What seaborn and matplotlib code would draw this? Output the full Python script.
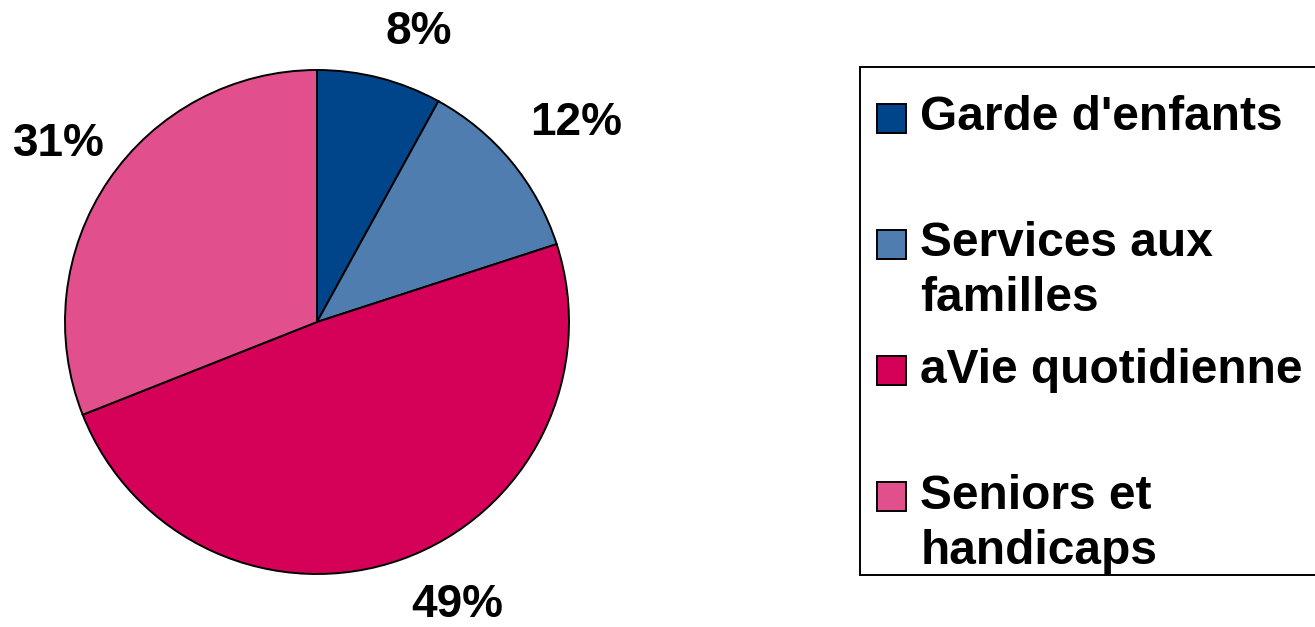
import matplotlib
matplotlib.use("Agg")
import numpy as np
import matplotlib.pyplot as plt
import seaborn as sns
from matplotlib.patches import Rectangle
from matplotlib.legend_handler import HandlerPatch

categories = ["Garde d'enfants\n ", "Services aux\nfamilles", "aVie quotidienne\n ", "Seniors et\nhandicaps"]
values = [8, 12, 49, 31]
colors = ["#00448A", "#4F7DAF", "#D50057", "#E1508C"]

sns.set_theme(style="white")
plt.rcParams['font.family'] = ['Liberation Sans', 'DejaVu Sans']
plt.rcParams['font.weight'] = 'bold'
plt.rcParams['text.color'] = 'black'

fig = plt.figure(figsize=(13.15, 6.27), dpi=100)
ax = fig.add_axes([2 / 1315, -10 / 627, 630 / 1315, 630 / 627])

wedges, texts, autotexts = ax.pie(
    values, colors=colors, startangle=90, counterclock=False,
    autopct='%.0f%%', pctdistance=1.1,
    wedgeprops=dict(edgecolor='black', linewidth=1.4),
    textprops=dict(fontsize=33, fontweight='bold', color='black'),
)
ax.set_aspect('equal')

# place the percentages just outside the rim, like "outside end" labels
for w, t in zip(wedges, autotexts):
    mid = np.deg2rad((w.theta1 + w.theta2) / 2)
    c, s = np.cos(mid), np.sin(mid)
    t.set_position((1.1 * c, 1.1 * s))
    t.set_ha('left' if c > 0 else 'right')
    t.set_va('bottom' if s > 0 else 'top')

# keep labels inside the figure (nudge right if they hit the left edge)
fig.canvas.draw()
r = fig.canvas.get_renderer()
for t in autotexts:
    bb = t.get_window_extent(r)
    if bb.x0 < 13:
        x, y = t.get_position()
        px, py = ax.transData.transform((x, y))
        nx, ny = ax.transData.inverted().transform((px + 13 - bb.x0, py))
        t.set_position((nx, ny))


def top_square(legend, orig_handle, xdescent, ydescent, width, height, fontsize):
    # square sits on the first text line, at the right of the handle box
    side = 0.6 * fontsize
    cy = -ydescent + height / 2 + 19.8
    return Rectangle((-xdescent + width - side, cy - side / 2), side, side)


# legend box runs past the right edge of the figure, as in the original
leg = fig.legend(
    wedges, categories, loc='upper left', mode='expand',
    bbox_to_anchor=(860 / 1315, 1 - 67 / 627, 470 / 1315, 0),
    fontsize=34.5, frameon=True, fancybox=False, edgecolor='black',
    framealpha=1, facecolor='white',
    handlelength=0.94, handleheight=0.6, handletextpad=0.3,
    labelspacing=0.55, borderpad=0.02, borderaxespad=0,
    title=' ', title_fontsize=1,
    handler_map={w: HandlerPatch(patch_func=top_square) for w in wedges},
)
leg.get_frame().set_linewidth(1.4)
for t in leg.get_texts():
    t.set_fontweight('bold')
    t.set_color('black')
    t.set_linespacing(1.28)
for h in leg.legend_handles:
    h.set_edgecolor('black')
    h.set_linewidth(1.4)

fig.savefig("out.png", dpi=100)
